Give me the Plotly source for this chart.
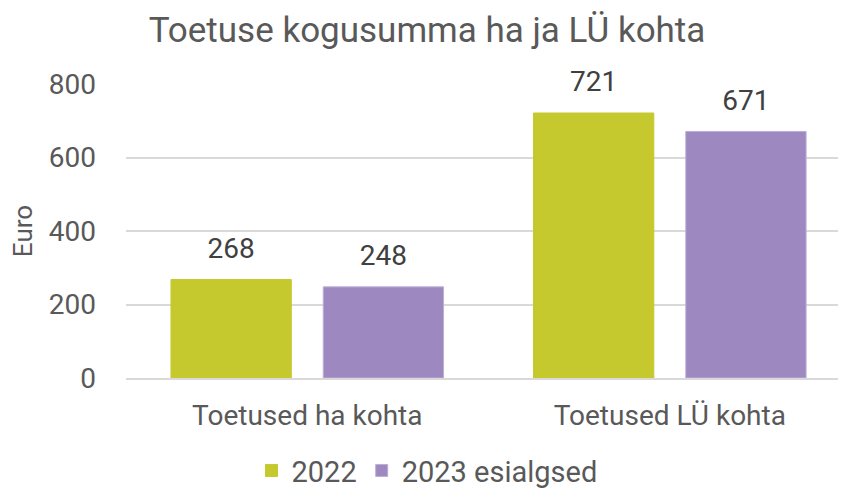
import plotly.graph_objects as go

categories = ["Toetused ha kohta", "Toetused LÜ kohta"]
series_names = ["2022", "2023 esialgsed"]
values_2022 = [268, 721]
values_2023 = [248, 671]
y_ticks = [0, 200, 400, 600, 800]

colors = ["#C5C92E", "#9D89BF"]
edge_colors = ["#C5C92E", "#BBAFD6"]
font_family = "Roboto, Arial, sans-serif"

fig = go.Figure()
for i, (name, vals, col, ec) in enumerate(zip(series_names, [values_2022, values_2023], colors, edge_colors)):
    fig.add_trace(go.Bar(
        x=categories, y=vals, name=name,
        marker=dict(color=col, line=dict(width=1, color=ec)),
        offsetgroup=str(i), alignmentgroup="g",
    ))
for i, vals in enumerate([values_2022, values_2023]):
    fig.add_trace(go.Scatter(
        x=categories, y=vals, mode="markers+text", showlegend=False,
        text=[str(v) for v in vals], textposition="top center",
        textfont=dict(size=28, color="#404040", family=font_family),
        marker=dict(size=22, opacity=0), hoverinfo="skip",
        offsetgroup=str(i), alignmentgroup="g", cliponaxis=False,
    ))

fig.update_layout(
    width=838, height=480,
    paper_bgcolor="white", plot_bgcolor="white",
    margin=dict(l=118, r=0, t=76, b=110, autoexpand=False),
    barmode="group", bargap=0.16, bargroupgap=0.21,
    scattermode="group", scattergap=0.16,
    font=dict(family=font_family, color="#595959", size=28),
    title=dict(text="Toetuse kogusumma ha ja LÜ kohta", x=0.5, xanchor="center",
               y=0.954, yanchor="middle", font=dict(size=35, color="#595959")),
    showlegend=True,
    legend=dict(orientation="h", xref="container", x=0.5, xanchor="center",
                y=-0.315, yanchor="middle",
                font=dict(size=29, color="#595959"), itemwidth=30,
                traceorder="normal"),
)
fig.update_yaxes(range=[0, 800], tickvals=y_ticks, showgrid=True, gridcolor="#d9d9d9",
                 gridwidth=1.5, zeroline=False, showline=False, automargin=False,
                 tickfont=dict(size=28, color="#595959"), ticklabelstandoff=29,
                 title=dict(text="Euro", font=dict(size=26, color="#595959"), standoff=9))
fig.update_xaxes(range=[-0.5, 1.486], showline=True, linecolor="#d9d9d9", linewidth=1.5,
                 automargin=False,
                 tickfont=dict(size=28, color="#595959"), ticks="", ticklabelstandoff=12)

fig.write_html("out.html")
